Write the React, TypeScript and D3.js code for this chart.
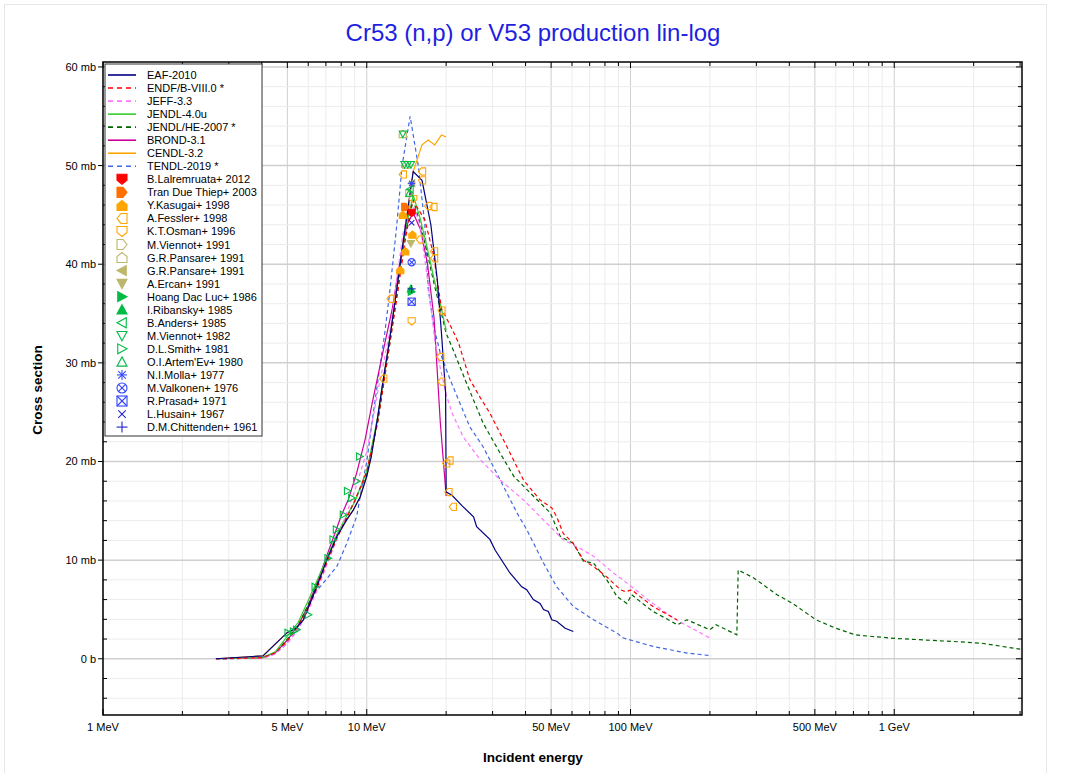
import React from "react";
import * as d3 from "d3";

// ---------- Evaluated data (E in MeV, sigma in mb) ----------
const eafE = [2.68, 4.04, 5.0, 5.4, 5.75, 6.46, 7.05, 7.7, 8.4, 8.9, 9.44, 10.0, 10.4, 11.0, 11.5, 12.2, 13.0, 13.7, 14.3, 15.0, 16.2, 17.5, 18.5, 19.2, 19.9, 20.0, 21.0, 23.0, 25.4, 26.1, 29.3, 30.7, 34.9, 38.7, 40.4, 42.8, 45.4, 46.8, 48.8, 50.3, 52.5, 56.5, 60.7];
const eafS = [0, 0.3, 2.67, 3.1, 3.95, 7.3, 10.0, 12.4, 14.1, 15.1, 16.4, 18.5, 20.5, 24.5, 28, 32.3, 37.5, 42, 45.5, 49.4, 48.5, 44, 38.5, 33, 27, 16.9, 16.6, 15.5, 14.4, 13.4, 12.1, 11.0, 8.7, 7.3, 7.0, 6.0, 5.6, 5.0, 4.8, 3.95, 3.8, 3.1, 2.77];

const endfE = [2.68, 4, 4.5, 5, 5.5, 6, 6.5, 7, 7.7, 8.4, 9, 10, 11, 12, 13, 14, 14.8, 15.5, 16.6, 17.9, 19.2, 21, 22.3, 24.6, 26.9, 29.3, 34, 39.3, 45.4, 50.3, 52.5, 55.6, 60.7, 66.3, 72.4, 81.3, 91.5, 96, 101, 108.8, 121.7, 150];
const endfS = [0, 0.1, 0.6, 1.8, 3.3, 5.2, 7.3, 9.5, 12.2, 14.3, 16, 19, 24, 30.5, 36.5, 42.5, 46, 45.8, 44.5, 41, 35.5, 33.5, 32, 28.3, 26.5, 24.9, 21.5, 18.1, 16.1, 15.3, 14.4, 12.7, 11.7, 10, 9.35, 8.3, 7, 6.8, 7.0, 6.3, 5.3, 3.95];

const jeffE = [2.68, 4, 4.5, 5, 5.5, 6, 6.5, 7, 8, 9, 10, 11, 12.3, 13, 13.7, 14.5, 15.2, 15.9, 17.1, 18.1, 19, 20, 21, 23.2, 26.9, 32.1, 39.3, 48.1, 55.6, 64.2, 72.4, 86.2, 91.5, 101, 121.7, 149, 200];
const jeffS = [0, 0.05, 0.5, 1.6, 3, 4.9, 7, 9.3, 13.3, 17, 21, 27, 33.5, 38.5, 43, 46, 45.6, 44, 38, 32.3, 29.5, 26.8, 25, 22.5, 20.2, 18.1, 16.1, 13.75, 12.06, 11.2, 10.4, 8.7, 8.2, 7.3, 5.6, 3.95, 2.1];

const jendl4E = [2.68, 4, 4.5, 5, 5.5, 6, 6.5, 7, 7.7, 8.4, 9, 10, 11, 12, 13, 14, 15, 16, 17, 18, 19, 20];
const jendl4S = [0, 0.1, 0.7, 2.3, 3.7, 5.9, 8, 10, 12.6, 14.5, 15.9, 19, 24.5, 31, 37.5, 43.5, 47, 44.5, 41.5, 38.5, 36, 33.3];

const jendlHeE = [2.68, 4, 4.5, 5, 5.5, 6, 6.5, 7, 7.7, 8.4, 9, 10, 11, 12, 13, 14, 15, 16, 17, 18, 19, 20, 21.5, 23.6, 27.6, 32.1, 36.1, 42.8, 49.6, 54.2, 60.7, 66.3, 72.4, 81.3, 88.9, 96.9, 101, 108.8, 121.7, 150.6, 163.6, 200, 211, 253, 256, 293, 359, 412, 505, 600, 710, 825, 1015, 1680, 2140, 3000];
const jendlHeS = [0, 0.1, 0.6, 2, 3.4, 5.5, 7.6, 9.8, 12.4, 14.4, 16, 18.7, 24, 30.5, 37, 43, 46.5, 44, 41, 38, 35.5, 33, 31, 28.3, 23.9, 20.8, 18.5, 16.5, 14.8, 12.4, 11.7, 9.9, 9.7, 8.0, 6.3, 5.6, 6.5, 5.8, 4.8, 3.45, 3.95, 2.94, 3.45, 2.43, 9.0, 8.2, 6.5, 5.6, 3.95, 3.1, 2.43, 2.26, 2.06, 1.75, 1.58, 0.97];

const brondE = [2.68, 4, 4.5, 5, 5.5, 6, 6.5, 7, 7.5, 8, 8.5, 9.15, 9.85, 10.5, 11.5, 12.5, 13.5, 14.2, 15, 16, 17, 18, 19, 20];
const brondS = [0, 0.1, 0.6, 1.9, 3.4, 5.4, 7.8, 10.2, 12.4, 14.5, 16.1, 18.8, 22.2, 26, 31, 35.5, 41, 44, 45.2, 43.5, 40, 34.5, 24, 16.5];

const cendlE = [2.68, 4.04, 5.0, 5.4, 5.75, 6.46, 7.05, 7.7, 8.4, 8.9, 9.44, 10.0, 10.4, 11.0, 11.5, 12.2, 13.0, 13.7, 14.3, 15.0, 16.2, 17.1, 18.1, 19.2, 20.0];
const cendlS = [0, 0.3, 2.67, 3.1, 3.95, 7.3, 10.0, 12.4, 14.1, 15.1, 16.4, 18.5, 20.5, 24.5, 28, 32.3, 37.5, 42, 45.5, 49.4, 52.1, 52.6, 52.1, 53.1, 52.9];

const tendlE = [2.68, 4, 4.5, 5, 5.5, 6, 6.27, 6.85, 7.7, 8.4, 9.15, 9.6, 10, 10.6, 11.2, 11.7, 12.2, 13, 13.6, 14.6, 15.7, 16.6, 17.1, 18, 19, 20.7, 24.6, 27.6, 32.1, 37.1, 40.4, 46.8, 52.5, 60.7, 72.4, 88.9, 94, 121.7, 163.6, 203];
const tendlS = [0, 0.05, 0.5, 1.6, 3, 5, 6.5, 7.7, 9.35, 11.7, 14.4, 17.5, 20, 25, 29.5, 33, 37, 44, 49.9, 55, 49.9, 44, 37.5, 33.5, 31, 28.3, 23.5, 21.5, 18.1, 14.8, 13.1, 9.7, 7.3, 5.3, 3.95, 2.6, 2.1, 1.25, 0.58, 0.3];

// ---------- Experimental data ----------
const lalremruataE = [14.8];
const lalremruataS = [45.2];
const tranE = [14.0];
const tranS = [45.8];
const kasugaiE = [13.7, 14.9, 14.0, 13.4];
const kasugaiS = [45.0, 43.0, 41.3, 39.4];
const fesslerE = [13.7, 12.3, 11.55, 16.2, 16.2, 17.1, 17.9, 15.9, 18.0, 18.0, 19.2, 19.0, 19.2, 20.0, 20.6, 20.4, 21.2];
const fesslerS = [49.1, 36.5, 28.4, 49.4, 48.5, 45.9, 45.8, 42.5, 41.3, 40.6, 35.3, 30.6, 28.1, 19.8, 20.1, 16.9, 15.4];
const osmanE = [14.8, 15.0];
const osmanS = [34.2, 46.6];
const viennot91E = [14.5];
const viennot91S = [47.2];
const pansareAE = [13.7, 14.1];
const pansareAS = [53.2, 50.1];
const pansareBE = [14.8];
const pansareBS = [48.2];
const ercanE = [14.7];
const ercanS = [42.1];
const hoangE = [14.75];
const hoangS = [37.2];
const ribanskyE = [14.7];
const ribanskyS = [37.5];
const andersE = [14.6];
const andersS = [47.6];
const viennot82E = [13.7, 13.9, 14.3, 14.7];
const viennot82S = [53.2, 50.1, 50.1, 50.1];
const smithE = [5.03, 5.27, 5.42, 6.0, 6.37, 7.13, 7.45, 7.67, 8.15, 8.45, 8.77, 9.15, 9.4];
const smithS = [2.63, 2.77, 2.94, 4.46, 7.3, 10.2, 12.1, 13.1, 14.6, 17.0, 16.3, 18.0, 20.5];
const artemevE = [14.5];
const artemevS = [47.2];
const mollaE = [14.8];
const mollaS = [48.2];
const valkonenE = [14.8];
const valkonenS = [40.2];
const prasadE = [14.8];
const prasadS = [36.2];
const husainE = [14.8];
const husainS = [44.2];
const chittendenE = [14.8];
const chittendenS = [37.5];

// ---------- Axis ticks ----------
const xTickValues = [1, 5, 10, 50, 100, 500, 1000];
const xTickLabels = ["1 MeV", "5 MeV", "10 MeV", "50 MeV", "100 MeV", "500 MeV", "1 GeV"];
const yTickValues = [0, 10, 20, 30, 40, 50, 60];
const yTickLabels = ["0 b", "10 mb", "20 mb", "30 mb", "40 mb", "50 mb", "60 mb"];

const FONT = "'Liberation Sans', Arial, Helvetica, sans-serif";

type Series = { name: string; E: number[]; S: number[]; color: string; dash?: string };
const evaluations: Series[] = [
  { name: "EAF-2010", E: eafE, S: eafS, color: "#000080" },
  { name: "ENDF/B-VIII.0 *", E: endfE, S: endfS, color: "#ff0000", dash: "4,3" },
  { name: "JEFF-3.3", E: jeffE, S: jeffS, color: "#ff77ff", dash: "4,3" },
  { name: "JENDL-4.0u", E: jendl4E, S: jendl4S, color: "#33cc33" },
  { name: "JENDL/HE-2007 *", E: jendlHeE, S: jendlHeS, color: "#006400", dash: "4,3" },
  { name: "BROND-3.1", E: brondE, S: brondS, color: "#cc0099" },
  { name: "CENDL-3.2", E: cendlE, S: cendlS, color: "#ffa500" },
  { name: "TENDL-2019 *", E: tendlE, S: tendlS, color: "#4169e1", dash: "4,3" },
];

type Exp = { name: string; E: number[]; S: number[]; color: string; shape: string; filled: boolean };
const experiments: Exp[] = [
  { name: "B.Lalremruata+ 2012", E: lalremruataE, S: lalremruataS, color: "#ff0000", shape: "shieldDown", filled: true },
  { name: "Tran Due Thiep+ 2003", E: tranE, S: tranS, color: "#ff7000", shape: "shieldRight", filled: true },
  { name: "Y.Kasugai+ 1998", E: kasugaiE, S: kasugaiS, color: "#ffa500", shape: "shieldUp", filled: true },
  { name: "A.Fessler+ 1998", E: fesslerE, S: fesslerS, color: "#ffa500", shape: "shieldLeft", filled: false },
  { name: "K.T.Osman+ 1996", E: osmanE, S: osmanS, color: "#ffa500", shape: "shieldDown", filled: false },
  { name: "M.Viennot+ 1991", E: viennot91E, S: viennot91S, color: "#bdb76b", shape: "shieldRight", filled: false },
  { name: "G.R.Pansare+ 1991", E: pansareAE, S: pansareAS, color: "#bdb76b", shape: "shieldUp", filled: false },
  { name: "G.R.Pansare+ 1991", E: pansareBE, S: pansareBS, color: "#bdb76b", shape: "triLeft", filled: true },
  { name: "A.Ercan+ 1991", E: ercanE, S: ercanS, color: "#bdb76b", shape: "triDown", filled: true },
  { name: "Hoang Dac Luc+ 1986", E: hoangE, S: hoangS, color: "#00bb44", shape: "triRight", filled: true },
  { name: "I.Ribansky+ 1985", E: ribanskyE, S: ribanskyS, color: "#00bb44", shape: "triUp", filled: true },
  { name: "B.Anders+ 1985", E: andersE, S: andersS, color: "#00bb44", shape: "triLeft", filled: false },
  { name: "M.Viennot+ 1982", E: viennot82E, S: viennot82S, color: "#00bb44", shape: "triDown", filled: false },
  { name: "D.L.Smith+ 1981", E: smithE, S: smithS, color: "#00bb44", shape: "triRight", filled: false },
  { name: "O.I.Artem'Ev+ 1980", E: artemevE, S: artemevS, color: "#00bb44", shape: "triUp", filled: false },
  { name: "N.I.Molla+ 1977", E: mollaE, S: mollaS, color: "#3344ff", shape: "asterisk", filled: false },
  { name: "M.Valkonen+ 1976", E: valkonenE, S: valkonenS, color: "#3344ff", shape: "circleX", filled: false },
  { name: "R.Prasad+ 1971", E: prasadE, S: prasadS, color: "#3344ff", shape: "squareX", filled: false },
  { name: "L.Husain+ 1967", E: husainE, S: husainS, color: "#2222cc", shape: "x", filled: false },
  { name: "D.M.Chittenden+ 1961", E: chittendenE, S: chittendenS, color: "#2222cc", shape: "plus", filled: false },
];

const POLYS: Record<string, number[][]> = {
  shieldDown: [[-1, -1], [1, -1], [1, 0.2], [0, 1], [-1, 0.2]],
  shieldUp: [[-1, 1], [1, 1], [1, -0.2], [0, -1], [-1, -0.2]],
  shieldRight: [[-1, -1], [0.2, -1], [1, 0], [0.2, 1], [-1, 1]],
  shieldLeft: [[1, -1], [-0.2, -1], [-1, 0], [-0.2, 1], [1, 1]],
  triUp: [[0, -1], [1, 0.85], [-1, 0.85]],
  triDown: [[0, 1], [1, -0.85], [-1, -0.85]],
  triLeft: [[-1, 0], [0.85, -1], [0.85, 1]],
  triRight: [[1, 0], [-0.85, -1], [-0.85, 1]],
};

function Marker({ cx, cy, r, shape, color, filled }: { cx: number; cy: number; r: number; shape: string; color: string; filled: boolean }) {
  const sw = 1.1;
  if (POLYS[shape]) {
    const pts = POLYS[shape].map(([a, b]) => `${cx + a * r},${cy + b * r}`).join(" ");
    return <polygon points={pts} fill={filled ? color : "white"} fillOpacity={filled ? 1 : 0} stroke={color} strokeWidth={sw} />;
  }
  const k = r * 0.75;
  if (shape === "asterisk") {
    return (
      <g stroke={color} strokeWidth={sw}>
        <line x1={cx - r} y1={cy} x2={cx + r} y2={cy} />
        <line x1={cx} y1={cy - r} x2={cx} y2={cy + r} />
        <line x1={cx - k} y1={cy - k} x2={cx + k} y2={cy + k} />
        <line x1={cx - k} y1={cy + k} x2={cx + k} y2={cy - k} />
      </g>
    );
  }
  if (shape === "circleX") {
    return (
      <g stroke={color} strokeWidth={sw} fill="none">
        <circle cx={cx} cy={cy} r={r} />
        <line x1={cx - k} y1={cy - k} x2={cx + k} y2={cy + k} />
        <line x1={cx - k} y1={cy + k} x2={cx + k} y2={cy - k} />
      </g>
    );
  }
  if (shape === "squareX") {
    return (
      <g stroke={color} strokeWidth={sw} fill="none">
        <rect x={cx - r} y={cy - r} width={2 * r} height={2 * r} />
        <line x1={cx - r} y1={cy - r} x2={cx + r} y2={cy + r} />
        <line x1={cx - r} y1={cy + r} x2={cx + r} y2={cy - r} />
      </g>
    );
  }
  if (shape === "x") {
    return (
      <g stroke={color} strokeWidth={sw}>
        <line x1={cx - k} y1={cy - k} x2={cx + k} y2={cy + k} />
        <line x1={cx - k} y1={cy + k} x2={cx + k} y2={cy - k} />
      </g>
    );
  }
  return (
    <g stroke={color} strokeWidth={sw}>
      <line x1={cx - r * 1.1} y1={cy} x2={cx + r * 1.1} y2={cy} />
      <line x1={cx} y1={cy - r * 1.1} x2={cx} y2={cy + r * 1.1} />
    </g>
  );
}

export default function App() {
  const W = 1071, H = 773;
  const L = 103, R = 1022, T = 62, B = 715;
  const x = d3.scaleLog().domain([1, 3050]).range([L, R]);
  const y = d3.scaleLinear().domain([-5.7, 60.5]).range([B, T]);

  const minorX: number[] = [];
  for (let dec = 1; dec <= 1000; dec *= 10) {
    for (let m = 1; m <= 9; m++) {
      const v = m * dec;
      if (v <= 3050) minorX.push(v);
    }
  }
  const minorY: number[] = d3.range(-4, 61, 2);

  const line = d3
    .line<[number, number]>()
    .x((d) => x(d[0]))
    .y((d) => y(d[1]));

  const legendY0 = 75;
  const legendStep = 13.04;

  const allLegend = [
    ...evaluations.map((s) => ({ kind: "line" as const, s })),
    ...experiments.map((e) => ({ kind: "exp" as const, e })),
  ];

  return (
    <svg width={W} height={H} style={{ position: "absolute", left: 0, top: 0, background: "white" }} fontFamily={FONT}>
      <rect x={4.5} y={4.5} width={1042} height={790} fill="white" stroke="#e6e6e6" />
      <text x={533} y={41} textAnchor="middle" fontSize={24} fill="#1f1fe0">
        Cr53 (n,p) or V53 production lin-log
      </text>

      {/* grid */}
      <g>
        {minorX.map((v, i) => {
          const major = xTickValues.includes(v);
          return <line key={"gx" + i} x1={x(v)} x2={x(v)} y1={T} y2={B} stroke={major ? "#cfcfcf" : "#ececec"} strokeWidth={1} />;
        })}
        {minorY.map((v, i) => {
          const major = v % 10 === 0;
          return <line key={"gy" + i} x1={L} x2={R} y1={y(v)} y2={y(v)} stroke={major ? "#cfcfcf" : "#ececec"} strokeWidth={major ? 1.5 : 1} />;
        })}
      </g>

      {/* evaluated curves, drawn in reverse order */}
      <g fill="none">
        {[...evaluations].reverse().map((s) => (
          <path
            key={s.name}
            d={line(s.E.map((e, i) => [e, s.S[i]] as [number, number])) || ""}
            stroke={s.color}
            strokeWidth={1.2}
            strokeDasharray={s.dash}
          />
        ))}
      </g>

      {/* experimental points */}
      <g>
        {experiments.map((ex, j) =>
          ex.E.map((e, i) => (
            <Marker key={"m" + j + "_" + i} cx={x(e)} cy={y(ex.S[i])} r={3.6} shape={ex.shape} color={ex.color} filled={ex.filled} />
          ))
        )}
      </g>

      {/* frame */}
      <rect x={L} y={T} width={R - L} height={B - T} fill="none" stroke="#000" strokeWidth={1.5} />

      {/* y axis ticks */}
      <g>
        {minorY.map((v, i) => {
          const major = v % 10 === 0;
          return (
            <g key={"yt" + i}>
              {major ? (
                <line x1={L - 5} x2={L} y1={y(v)} y2={y(v)} stroke="#000" />
              ) : (
                <line x1={L} x2={L + 4} y1={y(v)} y2={y(v)} stroke="#000" />
              )}
              <line x1={R - (major ? 6 : 4)} x2={R} y1={y(v)} y2={y(v)} stroke="#000" />
            </g>
          );
        })}
        {yTickValues.map((v, i) => (
          <text key={"yl" + i} x={L - 7} y={y(v) + 4} textAnchor="end" fontSize={11} fill="#000">
            {yTickLabels[i]}
          </text>
        ))}
      </g>

      {/* x axis ticks */}
      <g>
        {minorX.map((v, i) => {
          const major = xTickValues.includes(v);
          return (
            <g key={"xt" + i}>
              <line x1={x(v)} x2={x(v)} y1={B} y2={B - (major ? 6 : 4)} stroke="#000" />
              <line x1={x(v)} x2={x(v)} y1={T} y2={T + (major ? 6 : 4)} stroke="#000" />
            </g>
          );
        })}
        {xTickValues.map((v, i) => (
          <text key={"xl" + i} x={x(v)} y={B + 16} textAnchor="middle" fontSize={11} fill="#000">
            {xTickLabels[i]}
          </text>
        ))}
      </g>

      <text x={533} y={762} textAnchor="middle" fontSize={13.5} fontWeight="bold" fill="#000">
        Incident energy
      </text>
      <text transform="translate(42,390) rotate(-90)" textAnchor="middle" fontSize={13.5} fontWeight="bold" fill="#000">
        Cross section
      </text>

      {/* legend */}
      <g>
        <rect x={105} y={64} width={157} height={372} fill="white" stroke="#333" strokeWidth={1} />
        {allLegend.map((it, i) => {
          const ly = legendY0 + i * legendStep;
          if (it.kind === "line") {
            return (
              <g key={"lg" + i}>
                <line x1={108} x2={136} y1={ly} y2={ly} stroke={it.s.color} strokeWidth={1.6} strokeDasharray={it.s.dash ? "5,4" : undefined} />
                <text x={147} y={ly + 4} fontSize={11} fill="#000">
                  {it.s.name}
                </text>
              </g>
            );
          }
          return (
            <g key={"lg" + i}>
              <Marker cx={122} cy={ly} r={5} shape={it.e.shape} color={it.e.color} filled={it.e.filled} />
              <text x={147} y={ly + 4} fontSize={11} fill="#000">
                {it.e.name}
              </text>
            </g>
          );
        })}
      </g>
    </svg>
  );
}
